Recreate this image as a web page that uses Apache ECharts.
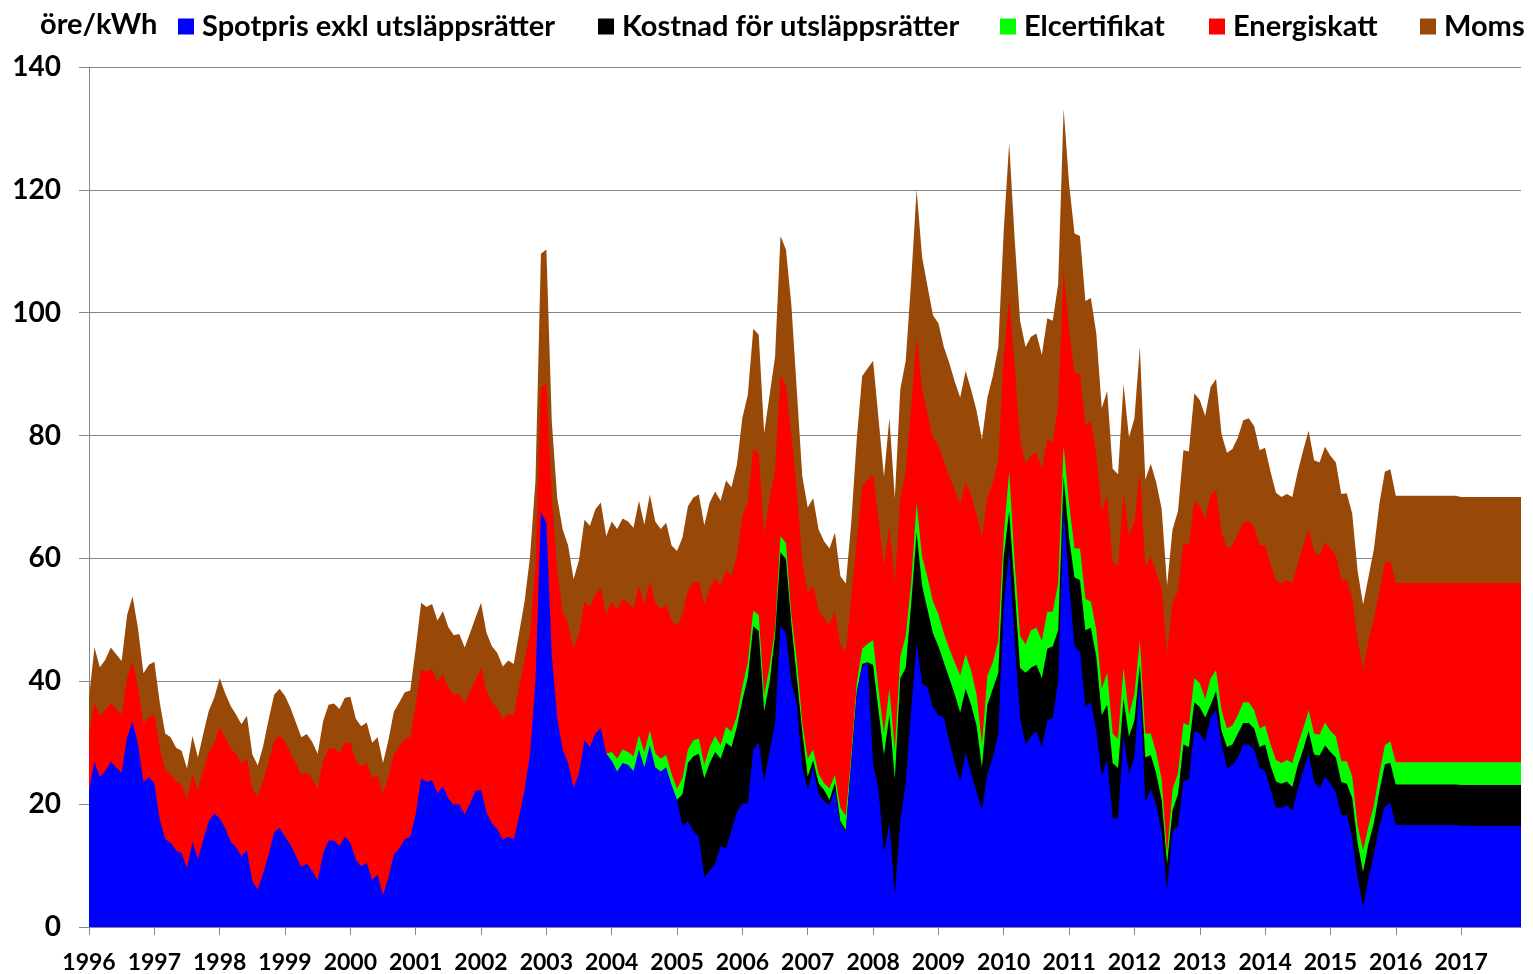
<!DOCTYPE html>
<html>
<head>
<meta charset="utf-8">
<title>Elpris</title>
<script src="https://cdn.jsdelivr.net/npm/echarts@6/dist/echarts.min.js"></script>
<style>
  html, body { margin: 0; padding: 0; background: #fff; }
  #chart { width: 1533px; height: 974px; }
</style>
</head>
<body>
<div id="chart"></div>
<script>
const years = ['1996', '1997', '1998', '1999', '2000', '2001', '2002', '2003', '2004', '2005', '2006',
  '2007', '2008', '2009', '2010', '2011', '2012', '2013', '2014', '2015', '2016', '2017']

// Each array holds the upper edge of a layer (öre/kWh), one value per month
const spotpris = [
  22.3, 26.9, 24.4, 25.4, 26.9, 26.0, 25.1, 30.9, 33.5, 29.8, 23.6, 24.4,
  23.4, 17.4, 14.3, 13.7, 12.5, 12.0, 9.6, 13.8, 11.1, 14.2, 17.2, 18.5,
  17.7, 16.1, 13.9, 13.0, 11.5, 12.5, 7.5, 6.1, 8.8, 11.8, 15.4, 16.1,
  14.7, 13.4, 11.5, 9.8, 10.3, 9.1, 7.6, 12.0, 14.1, 14.1, 13.2, 14.7,
  13.7, 11.0, 9.9, 10.4, 7.7, 8.5, 5.2, 8.1, 11.8, 12.8, 14.3, 14.7,
  18.3, 24.2, 23.6, 23.9, 21.8, 22.9, 20.9, 19.9, 20.0, 18.3, 20.1, 22.2,
  22.3, 18.7, 16.9, 15.9, 14.2, 14.7, 14.3, 18.0, 22.3, 28.2, 39.9, 67.6,
  65.8, 44.2, 34.0, 28.9, 26.7, 22.7, 25.0, 30.4, 29.3, 31.5, 32.4, 28.2,
  27.1, 25.3, 26.7, 26.4, 25.4, 28.9, 26.0, 29.6, 26.0, 25.3, 26.0, 23.1,
  20.7, 16.5, 17.2, 15.6, 14.7, 8.1, 9.2, 10.3, 13.2, 12.8, 15.8, 18.7,
  20.1, 20.1, 28.9, 30.0, 23.8, 28.5, 33.3, 49.0, 47.9, 39.9, 36.2, 26.0,
  22.3, 26.0, 21.6, 20.5, 19.8, 22.4, 16.8, 15.5, 26.7, 37.9, 42.4, 43.1,
  26.7, 22.4, 12.1, 16.8, 5.2, 17.2, 23.3, 35.3, 46.1, 39.7, 39.0, 35.8,
  34.5, 34.1, 30.2, 26.7, 23.7, 28.4, 25.0, 22.0, 19.0, 25.0, 27.6, 31.5,
  52.2, 61.2, 46.6, 34.1, 29.7, 31.0, 31.9, 29.3, 33.6, 34.1, 40.1, 68.1,
  56.0, 45.7, 44.8, 35.8, 36.6, 31.9, 24.6, 27.2, 17.7, 17.7, 31.0, 25.0,
  27.6, 40.5, 20.3, 22.4, 19.8, 15.5, 6.0, 15.5, 16.4, 23.7, 24.1, 31.9,
  31.5, 30.2, 34.1, 35.3, 29.7, 25.9, 26.3, 27.6, 29.7, 29.7, 28.9, 25.9,
  25.4, 22.4, 19.4, 19.4, 19.8, 19.0, 22.4, 25.4, 28.2, 23.7, 22.6, 24.5,
  23.3, 21.9, 18.2, 18.2, 14.7, 7.9, 3.3, 7.9, 11.9, 16.5, 19.6, 20.2,
  16.6, 16.6, 16.6, 16.6, 16.6, 16.6, 16.6, 16.6, 16.6, 16.6, 16.6, 16.6,
  16.5, 16.5, 16.5, 16.5, 16.5, 16.5, 16.5, 16.5, 16.5, 16.5, 16.5, 16.5
]

// from Jan 2005
const utslappsratter = [
  20.7, 21.6, 26.7, 27.8, 28.2, 24.2, 26.7, 28.5, 27.4, 30.0, 29.3, 32.6,
  36.9, 40.6, 49.0, 48.2, 35.1, 39.9, 47.5, 61.0, 59.9, 49.3, 40.6, 31.8,
  24.5, 27.1, 23.4, 22.3, 20.7, 23.5, 17.2, 15.8, 27.0, 38.2, 42.8, 43.1,
  42.7, 35.3, 28.0, 34.5, 24.1, 40.5, 42.2, 52.6, 64.2, 55.6, 51.7, 47.8,
  45.7, 43.1, 40.5, 37.9, 34.9, 38.8, 36.2, 32.8, 26.0, 36.2, 38.8, 41.4,
  60.3, 67.7, 55.2, 42.2, 41.4, 42.2, 42.7, 40.5, 45.3, 45.7, 48.3, 73.3,
  63.4, 56.9, 56.5, 48.3, 48.7, 44.0, 34.5, 36.2, 26.7, 25.9, 37.1, 31.0,
  33.6, 42.7, 27.6, 28.0, 25.0, 20.7, 10.3, 19.0, 21.6, 29.7, 29.3, 36.6,
  35.8, 34.1, 36.2, 38.4, 31.9, 29.3, 29.7, 31.5, 33.2, 33.2, 32.3, 29.3,
  29.7, 26.3, 23.7, 23.3, 23.7, 22.8, 26.3, 28.9, 31.9, 28.1, 27.9, 29.6,
  28.5, 27.6, 23.6, 23.3, 21.0, 13.6, 9.0, 13.6, 17.0, 22.2, 26.5, 26.7,
  23.2, 23.2, 23.2, 23.2, 23.2, 23.2, 23.2, 23.2, 23.2, 23.2, 23.2, 23.2,
  23.1, 23.1, 23.1, 23.1, 23.1, 23.1, 23.1, 23.1, 23.1, 23.1, 23.1, 23.1
]

// from Dec 2003
const elcertifikat = [
  28.2,
  28.5, 27.4, 28.9, 28.5, 27.8, 31.2, 28.5, 32.0, 28.3, 27.4, 28.0, 24.9,
  22.5, 24.2, 28.9, 30.4, 30.7, 26.4, 29.3, 31.1, 29.6, 32.6, 31.8, 34.4,
  39.1, 43.1, 51.5, 50.8, 37.7, 42.4, 48.6, 63.6, 62.5, 50.8, 43.5, 33.3,
  27.4, 28.9, 24.9, 23.4, 22.6, 24.8, 19.4, 18.1, 28.0, 39.7, 45.3, 46.1,
  46.7, 38.8, 31.5, 38.8, 28.9, 44.0, 47.4, 56.0, 69.0, 60.3, 56.9, 53.0,
  50.9, 47.8, 45.3, 43.1, 40.9, 44.4, 41.8, 37.9, 29.8, 40.9, 43.1, 46.6,
  63.8, 74.1, 59.5, 47.4, 46.0, 48.3, 48.7, 46.6, 51.3, 51.3, 56.0, 78.4,
  69.0, 61.6, 61.6, 53.4, 53.0, 48.3, 38.8, 41.4, 31.5, 30.6, 42.2, 34.5,
  37.9, 46.6, 31.5, 31.5, 28.4, 24.1, 12.1, 22.4, 25.0, 33.2, 32.8, 40.5,
  39.7, 37.1, 40.5, 41.8, 35.3, 32.3, 32.8, 34.5, 36.6, 36.6, 35.3, 32.3,
  32.8, 29.7, 27.2, 26.7, 27.2, 26.7, 29.7, 32.3, 35.3, 31.5, 31.3, 33.3,
  31.9, 31.0, 27.0, 27.0, 24.5, 16.5, 12.5, 16.5, 19.9, 25.0, 29.6, 30.2,
  26.8, 26.8, 26.8, 26.8, 26.8, 26.8, 26.8, 26.8, 26.8, 26.8, 26.8, 26.8,
  26.8, 26.8, 26.8, 26.8, 26.8, 26.8, 26.8, 26.8, 26.8, 26.8, 26.8, 26.8
]

const energiskatt = [
  31.4, 36.5, 34.4, 35.3, 36.5, 35.4, 34.6, 40.5, 43.2, 38.9, 33.1, 34.1,
  34.6, 29.2, 25.5, 24.9, 23.6, 23.2, 20.8, 24.9, 22.3, 25.5, 28.4, 29.9,
  32.5, 30.9, 29.0, 28.2, 26.7, 27.5, 22.5, 21.2, 23.9, 27.1, 30.3, 31.1,
  30.1, 28.4, 26.6, 24.7, 25.2, 24.1, 22.5, 27.1, 29.0, 29.1, 28.3, 30.0,
  30.0, 27.1, 26.2, 26.7, 24.2, 24.7, 21.6, 24.5, 28.2, 29.3, 30.6, 30.9,
  36.2, 42.0, 41.5, 42.0, 39.9, 41.1, 39.0, 37.8, 38.0, 36.4, 38.4, 40.2,
  42.2, 38.4, 36.6, 35.6, 33.8, 34.7, 34.4, 39.1, 43.5, 47.9, 58.8, 87.9,
  88.4, 69.8, 58.1, 51.2, 49.3, 45.3, 47.8, 53.0, 52.1, 54.1, 55.2, 50.8,
  53.0, 51.7, 53.4, 52.8, 51.9, 55.5, 52.4, 56.3, 52.8, 51.7, 52.6, 49.9,
  49.0, 50.9, 54.8, 56.1, 56.3, 52.4, 55.2, 56.8, 55.5, 58.1, 57.2, 60.3,
  66.9, 69.1, 77.8, 77.1, 63.9, 69.8, 74.2, 89.9, 88.0, 80.0, 71.2, 59.6,
  54.5, 55.5, 51.5, 50.2, 49.3, 51.3, 45.9, 44.8, 53.4, 62.9, 71.7, 72.8,
  73.7, 66.4, 58.6, 65.5, 56.0, 69.8, 74.1, 84.5, 96.1, 87.5, 83.6, 79.7,
  78.4, 75.9, 73.3, 71.1, 68.8, 72.4, 70.3, 67.2, 63.4, 69.8, 72.4, 75.9,
  93.1, 102.2, 91.4, 79.3, 75.4, 76.7, 77.2, 74.6, 79.3, 78.9, 84.9, 106.9,
  97.0, 90.1, 90.1, 81.7, 82.3, 77.2, 67.7, 70.3, 59.5, 58.8, 70.7, 63.8,
  65.9, 74.1, 58.6, 60.3, 57.8, 55.2, 44.4, 52.6, 54.7, 62.5, 62.1, 69.4,
  68.5, 66.4, 70.3, 71.1, 64.2, 61.6, 62.1, 64.0, 65.9, 66.1, 65.1, 62.1,
  62.2, 59.1, 56.5, 55.9, 56.5, 55.9, 59.1, 62.1, 64.7, 61.1, 60.5, 62.6,
  61.6, 60.5, 56.5, 56.5, 53.6, 46.7, 41.9, 46.7, 50.2, 54.7, 59.3, 59.6,
  56.0, 56.0, 56.0, 56.0, 56.0, 56.0, 56.0, 56.0, 56.0, 56.0, 56.0, 56.0,
  56.0, 56.0, 56.0, 56.0, 56.0, 56.0, 56.0, 56.0, 56.0, 56.0, 56.0, 56.0
]

const moms = [
  37.3, 45.5, 42.3, 43.5, 45.5, 44.4, 43.3, 50.8, 53.8, 48.6, 41.3, 42.7,
  43.2, 36.5, 31.5, 30.9, 29.2, 28.7, 25.8, 31.1, 27.6, 31.5, 35.2, 37.3,
  40.5, 38.1, 36.0, 34.6, 33.0, 34.4, 28.1, 26.3, 29.5, 33.8, 37.8, 38.8,
  37.6, 35.7, 33.3, 30.9, 31.4, 30.1, 28.2, 33.5, 36.2, 36.4, 35.5, 37.3,
  37.5, 33.9, 32.7, 33.3, 30.0, 30.9, 26.7, 30.5, 35.1, 36.6, 38.2, 38.5,
  45.3, 52.8, 52.1, 52.6, 49.9, 51.4, 48.8, 47.5, 47.7, 45.5, 47.9, 50.4,
  52.8, 47.9, 45.7, 44.6, 42.4, 43.4, 42.8, 47.9, 53.0, 60.3, 72.7, 109.6,
  110.3, 82.2, 69.8, 64.7, 62.1, 56.6, 59.8, 66.3, 65.3, 68.0, 69.1, 63.6,
  66.0, 64.8, 66.5, 66.0, 65.0, 69.4, 65.5, 70.4, 66.0, 64.8, 65.8, 62.1,
  61.2, 63.4, 68.5, 69.9, 70.4, 65.4, 69.1, 70.9, 69.4, 72.7, 71.6, 75.3,
  82.9, 86.6, 97.4, 96.4, 80.4, 86.6, 92.8, 112.5, 110.3, 101.2, 87.3, 73.4,
  68.3, 69.8, 64.7, 62.8, 61.6, 64.2, 57.1, 55.9, 65.9, 79.3, 89.7, 90.9,
  92.2, 82.8, 73.3, 82.8, 69.8, 87.5, 92.2, 105.2, 120.0, 109.1, 104.3, 99.6,
  98.3, 94.4, 91.8, 88.8, 86.2, 90.5, 87.5, 84.1, 79.3, 86.2, 89.7, 94.4,
  113.4, 127.6, 112.1, 98.7, 94.4, 96.1, 96.6, 93.1, 99.1, 98.7, 104.7, 133.2,
  121.0, 112.9, 112.5, 101.9, 102.4, 96.6, 84.5, 87.2, 74.6, 73.7, 88.4, 79.7,
  82.8, 94.4, 72.8, 75.4, 72.4, 68.1, 55.6, 64.7, 67.7, 77.6, 77.4, 86.9,
  85.8, 83.2, 87.9, 89.2, 80.2, 77.2, 77.8, 79.7, 82.5, 82.8, 81.5, 77.6,
  78.0, 74.1, 70.7, 70.0, 70.5, 70.0, 74.1, 77.6, 80.8, 76.0, 75.6, 78.2,
  76.7, 75.6, 70.5, 70.6, 67.3, 57.9, 52.5, 57.0, 61.6, 69.0, 74.1, 74.5,
  70.2, 70.2, 70.2, 70.2, 70.2, 70.2, 70.2, 70.2, 70.2, 70.2, 70.2, 70.2,
  70.0, 70.0, 70.0, 70.0, 70.0, 70.0, 70.0, 70.0, 70.0, 70.0, 70.0, 70.0
]

const months = []
years.forEach((y) => {
  for (let m = 1; m <= 12; m++) months.push(y + '-' + String(m).padStart(2, '0'))
})

// shorter layers start later: pad the front with empty months
const pad = (arr) => new Array(months.length - arr.length).fill(null).concat(arr)

const font = 'Lato, "Open Sans", sans-serif'
const gray = '#868686'

// drawn back to front: each layer is filled down to zero, the next one covers it
const layers = [
  { name: 'Moms', color: '#984807', data: moms },
  { name: 'Energiskatt', color: '#ff0000', data: energiskatt },
  { name: 'Elcertifikat', color: '#00ff00', data: pad(elcertifikat) },
  { name: 'Kostnad för utsläppsrätter', color: '#000000', data: pad(utslappsratter) },
  { name: 'Spotpris exkl utsläppsrätter', color: '#0000ff', data: spotpris }
]

// left edge of each legend marker
const legendPos = {
  'Spotpris exkl utsläppsrätter': 178,
  'Kostnad för utsläppsrätter': 598,
  'Elcertifikat': 1000,
  'Energiskatt': 1209,
  'Moms': 1420
}

const option = {
  animation: false,
  backgroundColor: '#fff',
  title: {
    text: 'öre/kWh',
    left: 35,
    top: 5,
    textStyle: { fontFamily: font, fontSize: 29, fontWeight: 'bold', color: '#000' }
  },
  legend: Object.keys(legendPos).map((name) => ({
    data: [name],
    left: legendPos[name] - 5,
    top: 7,
    icon: 'rect',
    itemWidth: 16,
    itemHeight: 16,
    selectedMode: false,
    textStyle: { fontFamily: font, fontSize: 29, fontWeight: 'bold', color: '#000', padding: [0, 0, 0, 3] }
  })),
  grid: { left: 89, right: 12, top: 67, bottom: 47, containLabel: false },
  xAxis: {
    type: 'category',
    data: months,
    boundaryGap: false,
    axisLine: { lineStyle: { color: gray, width: 1 } },
    axisTick: {
      interval: (i) => i % 12 === 0,
      length: 8,
      lineStyle: { color: gray }
    },
    axisLabel: {
      interval: (i) => i % 12 === 0,
      formatter: (v) => v.slice(0, 4),
      margin: 24,
      fontFamily: font,
      fontSize: 23,
      fontWeight: 'bold',
      color: '#000'
    },
    splitLine: { show: false }
  },
  yAxis: {
    type: 'value',
    min: 0,
    max: 140,
    interval: 20,
    axisLine: { show: true, lineStyle: { color: gray } },
    axisTick: { show: true, length: 10, lineStyle: { color: gray } },
    axisLabel: {
      margin: 28,
      fontFamily: font,
      fontSize: 28,
      fontWeight: 'bold',
      color: '#000'
    },
    splitLine: { lineStyle: { color: gray, width: 1 } }
  },
  series: layers.map((l) => ({
    name: l.name,
    type: 'line',
    data: l.data,
    symbol: 'none',
    silent: true,
    itemStyle: { color: l.color },
    lineStyle: { width: 0 },
    areaStyle: { color: l.color, opacity: 1 }
  }))
}

const chart = echarts.init(document.getElementById('chart'))
chart.setOption(option)
window.addEventListener('resize', () => {
  chart.resize()
})
</script>
</body>
</html>
